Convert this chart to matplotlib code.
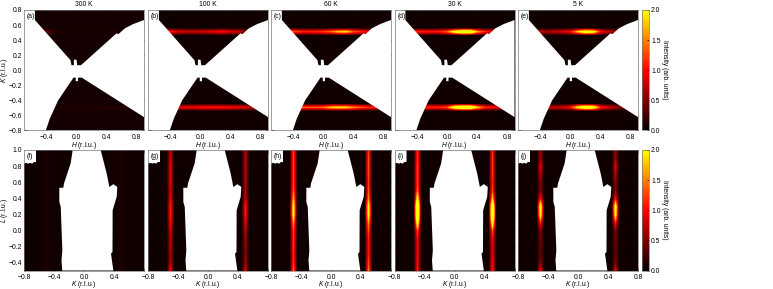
import numpy as np
import matplotlib
matplotlib.use("Agg")
import matplotlib.pyplot as plt
from matplotlib.colors import LinearSegmentedColormap, Normalize
from matplotlib.cm import ScalarMappable

plt.rcParams["font.family"] = ["Liberation Sans", "DejaVu Sans"]
plt.rcParams["font.size"] = 4.9
plt.rcParams["mathtext.fontset"] = "custom"
plt.rcParams["mathtext.it"] = "Liberation Sans:italic"
plt.rcParams["mathtext.rm"] = "Liberation Sans"

temps = ["300 K", "100 K", "60 K", "30 K", "5 K"]
top_labels = ["(a)", "(b)", "(c)", "(d)", "(e)"]
bottom_labels = ["(f)", "(g)", "(h)", "(i)", "(j)"]

# streak intensity along H, -0.7 to 0.9 in steps of 0.1
h_nodes = [-0.7, -0.6, -0.5, -0.4, -0.3, -0.2, -0.1, 0.0, 0.1, 0.2, 0.3, 0.4, 0.5, 0.6, 0.7, 0.8, 0.9]
upper_streak = [
    [0.1, 0.5, 0.6, 0.4, 0.15, 0.1, 0.1, 0.1, 0.1, 0.1, 0.1, 0.1, 0.1, 0.1, 0.1, 0.1, 0.1],
    [1.0, 1.2, 1.3, 1.15, 0.9, 0.85, 0.8, 0.85, 0.9, 1.0, 1.1, 0.9, 0.85, 0.5, 0.1, 0.1, 0.1],
    [1.5, 1.9, 1.9, 1.4, 1.2, 1.15, 1.2, 1.3, 1.5, 1.9, 2.0, 1.4, 1.2, 1.0, 0.2, 0.1, 0.1],
    [1.0, 1.1, 1.1, 1.2, 1.15, 1.1, 1.2, 1.5, 2.4, 3.0, 3.0, 1.7, 1.2, 0.9, 0.2, 0.1, 0.1],
    [0.5, 0.5, 0.5, 0.8, 0.7, 0.8, 0.9, 1.1, 1.9, 2.6, 2.4, 1.1, 0.8, 0.6, 0.2, 0.1, 0.1],
]
lower_streak = [
    [0.1, 0.1, 0.1, 0.1, 0.12, 0.12, 0.12, 0.12, 0.12, 0.12, 0.12, 0.12, 0.14, 0.14, 0.16, 0.16, 0.16],
    [0.9, 0.9, 0.9, 0.9, 0.9, 1.0, 1.0, 1.1, 1.1, 1.15, 1.1, 1.05, 1.0, 0.9, 0.7, 0.3, 0.2],
    [1.5, 1.5, 1.5, 1.5, 1.5, 1.4, 1.4, 1.5, 1.9, 2.0, 2.0, 1.6, 1.4, 1.2, 1.1, 0.3, 0.2],
    [1.2, 1.2, 1.2, 1.2, 1.2, 1.2, 1.25, 1.4, 2.6, 3.0, 3.0, 1.9, 1.2, 1.1, 0.9, 0.3, 0.2],
    [0.8, 0.8, 0.8, 0.8, 0.8, 0.8, 0.85, 1.1, 2.2, 2.8, 2.6, 1.2, 0.9, 0.7, 0.4, 0.2, 0.2],
]
top_background = [0.08, 0.07, 0.07, 0.07, 0.07]

# rod intensity along L, -0.5 to 1.0 in steps of 0.1
l_nodes = [-0.5, -0.4, -0.3, -0.2, -0.1, 0.0, 0.1, 0.2, 0.3, 0.4, 0.5, 0.6, 0.7, 0.8, 0.9, 1.0]
left_rod = [
    [0.12, 0.12, 0.12, 0.12, 0.12, 0.12, 0.12, 0.12, 0.12, 0.12, 0.12, 0.12, 0.12, 0.12, 0.12, 0.12],
    [1.0, 0.7, 0.6, 0.7, 0.7, 0.8, 1.0, 1.1, 1.1, 0.9, 0.8, 0.9, 0.9, 0.9, 0.8, 0.7],
    [1.5, 1.2, 1.1, 1.2, 1.2, 1.3, 1.6, 2.2, 2.2, 1.7, 1.4, 1.3, 1.3, 1.3, 1.3, 1.3],
    [1.1, 1.0, 1.0, 1.0, 1.0, 1.3, 2.4, 3.2, 3.2, 2.2, 1.4, 1.3, 1.3, 1.3, 1.2, 1.2],
    [1.0, 0.5, 0.4, 0.4, 0.45, 0.5, 1.1, 2.2, 2.4, 1.0, 0.5, 0.5, 0.7, 0.9, 0.6, 0.6],
]
right_rod = [
    [0.12, 0.12, 0.12, 0.12, 0.12, 0.12, 0.12, 0.12, 0.12, 0.12, 0.12, 0.12, 0.12, 0.12, 0.12, 0.12],
    [0.9, 0.6, 0.55, 0.55, 0.6, 0.7, 0.9, 1.1, 1.1, 0.8, 0.7, 0.7, 0.7, 0.75, 0.75, 0.7],
    [1.5, 1.3, 1.1, 1.1, 1.1, 1.3, 1.6, 2.2, 2.2, 1.5, 1.3, 1.2, 1.3, 1.3, 1.3, 1.2],
    [1.1, 1.0, 0.9, 0.9, 1.0, 1.3, 2.4, 3.2, 3.0, 1.8, 1.2, 1.1, 1.2, 1.2, 1.2, 1.1],
    [0.9, 0.5, 0.4, 0.4, 0.45, 0.5, 1.1, 2.2, 2.4, 1.0, 0.5, 0.55, 0.7, 0.9, 0.6, 0.6],
]
bottom_background = [0.07, 0.07, 0.07, 0.07, 0.07]

# outline of the region not measured
top_mask_h = [-0.7, -0.555, -0.555, -0.08, -0.067, -0.035, -0.035, 0.0, 0.01, 0.06, 0.533, 0.56, 0.644,
              0.755, 0.9, 0.9, 0.07, 0.02, 0.02, -0.01, -0.01, -0.04, -0.245, -0.355, -0.41, -0.7]
top_mask_k = [0.8, 0.8, 0.667, 0.133, 0.067, 0.067, 0.14, 0.14, 0.067, 0.067, 0.49, 0.48, 0.556,
              0.613, 0.667, -0.622, -0.098, -0.098, -0.145, -0.145, -0.098, -0.098, -0.4, -0.64, -0.8, -0.8]
bottom_mask_k = [-0.151, -0.178, -0.267, -0.276, -0.329, -0.329, -0.31, -0.289, -0.30, -0.29,
                 0.391, 0.36, 0.38, 0.382, 0.436, 0.444, 0.391, 0.338, 0.302, 0.222]
bottom_mask_l = [1.0, 0.833, 0.583, 0.53, 0.53, 0.354, 0.29, -0.25, -0.375, -0.5,
                 -0.5, -0.29, -0.27, 0.25, 0.417, 0.54, 0.575, 0.54, 0.71, 1.0]
corner_mask_k = [-0.8, -0.64, -0.64, -0.67, -0.69, -0.72, -0.74, -0.77, -0.8]
corner_mask_l = [1.0, 1.0, 0.85, 0.85, 0.83, 0.84, 0.83, 0.84, 0.83]

heat = LinearSegmentedColormap.from_list(
    "heat", [(0, "#000000"), (0.5, "#ff0000"), (1, "#ffff00")])
norm = Normalize(0, 2)

W, H = 773, 289
fig = plt.figure(figsize=(W / 100, H / 100), dpi=100)


def px_axes(x0, x1, y0, y1):
    return fig.add_axes([x0 / W, 1 - y1 / H, (x1 - x0) / W, (y1 - y0) / H])


def style(ax):
    for s in ax.spines.values():
        s.set_linewidth(0.5)
        s.set_color("#777777")
    ax.tick_params(direction="in", length=2, width=0.5, pad=2.2, top=True, right=True)
    ax.tick_params(axis="y", pad=1.5)


lefts = [24, 148, 271, 394.5, 518]
k_rows = np.arange(-0.85, 0.851, 0.05)
k_cols = np.arange(-0.85, 0.851, 0.05)

for i in range(5):
    # top row, H-K maps
    ax = px_axes(lefts[i], lefts[i] + 120, 10, 130.5)
    img = np.full((len(k_rows), len(h_nodes)), top_background[i])
    img[np.argmin(abs(k_rows - 0.5))] = upper_streak[i]
    img[np.argmin(abs(k_rows + 0.5))] = lower_streak[i]
    ax.imshow(img, origin="lower", aspect="auto", cmap=heat, norm=norm,
              extent=[-0.75, 0.95, -0.875, 0.875],
              interpolation="bilinear", interpolation_stage="data")
    ax.fill(top_mask_h, top_mask_k, color="white", lw=0, zorder=2)
    ax.set_xlim(-0.7, 0.9)
    ax.set_ylim(-0.8, 0.8)
    ax.set_xticks([-0.4, 0, 0.4, 0.8])
    ax.set_yticks(np.arange(-0.8, 0.81, 0.2))
    ax.set_xticklabels(["\u22120.4", "0.0", "0.4", "0.8"])
    style(ax)
    ax.set_xlabel("$\\mathit{H}$ (r.l.u.)")
    ax.xaxis.set_label_coords(0.5, -0.078)
    ax.set_title(temps[i], fontsize=4.9, pad=3)
    ax.text(0.025, 0.975, top_labels[i], transform=ax.transAxes, va="top", ha="left", zorder=4)
    if i == 0:
        ax.set_yticklabels(["\u22120.8", "\u22120.6", "\u22120.4", "\u22120.2", "0.0", "0.2", "0.4", "0.6", "0.8"])
        ax.set_ylabel("$\\mathit{K}$ (r.l.u.)")
        ax.yaxis.set_label_coords(-0.115, 0.5)
    else:
        ax.set_yticklabels([])

    # bottom row, K-L maps
    ax = px_axes(lefts[i], lefts[i] + 120, 150, 270.5)
    img = np.full((len(l_nodes), len(k_cols)), bottom_background[i])
    img[:, np.argmin(abs(k_cols + 0.5))] = left_rod[i]
    img[:, np.argmin(abs(k_cols - 0.5))] = right_rod[i]
    ax.imshow(img, origin="lower", aspect="auto", cmap=heat, norm=norm,
              extent=[-0.875, 0.875, -0.55, 1.05],
              interpolation="bilinear", interpolation_stage="data")
    ax.fill(bottom_mask_k, bottom_mask_l, color="white", lw=0, zorder=2)
    ax.fill(corner_mask_k, corner_mask_l, color="white", lw=0, zorder=2)
    ax.set_xlim(-0.8, 0.8)
    ax.set_ylim(-0.5, 1.0)
    ax.set_xticks([-0.8, -0.4, 0, 0.4, 0.8])
    ax.set_yticks(np.arange(-0.4, 1.01, 0.2))
    last = "0.8" if i == 4 else ""
    ax.set_xticklabels(["\u22120.8", "\u22120.4", "0.0", "0.4", last])
    style(ax)
    ax.set_xlabel("$\\mathit{K}$ (r.l.u.)")
    ax.xaxis.set_label_coords(0.5, -0.07)
    ax.text(0.025, 0.975, bottom_labels[i], transform=ax.transAxes, va="top", ha="left", zorder=4)
    if i == 0:
        ax.set_yticklabels(["\u22120.4", "\u22120.2", "0.0", "0.2", "0.4", "0.6", "0.8", "1.0"])
        ax.set_ylabel("$\\mathit{L}$ (r.l.u.)")
        ax.yaxis.set_label_coords(-0.115, 0.5)
    else:
        ax.set_yticklabels([])

for y0, y1 in [(10, 130.5), (150, 270.5)]:
    cax = px_axes(641.5, 649, y0, y1)
    cb = fig.colorbar(ScalarMappable(norm=norm, cmap=heat), cax=cax)
    cb.set_ticks([0, 0.5, 1, 1.5, 2])
    cb.set_ticklabels(["0.0", "0.5", "1.0", "1.5", "2.0"])
    cb.ax.tick_params(direction="in", length=1.5, width=0.5, pad=1.5)
    cb.outline.set_linewidth(0.5)
    cb.outline.set_edgecolor("#777777")
    cb.set_label("Intensity (arb. units)", rotation=270, labelpad=5.5, fontsize=4.9)

fig.savefig("out.png", dpi=100)
